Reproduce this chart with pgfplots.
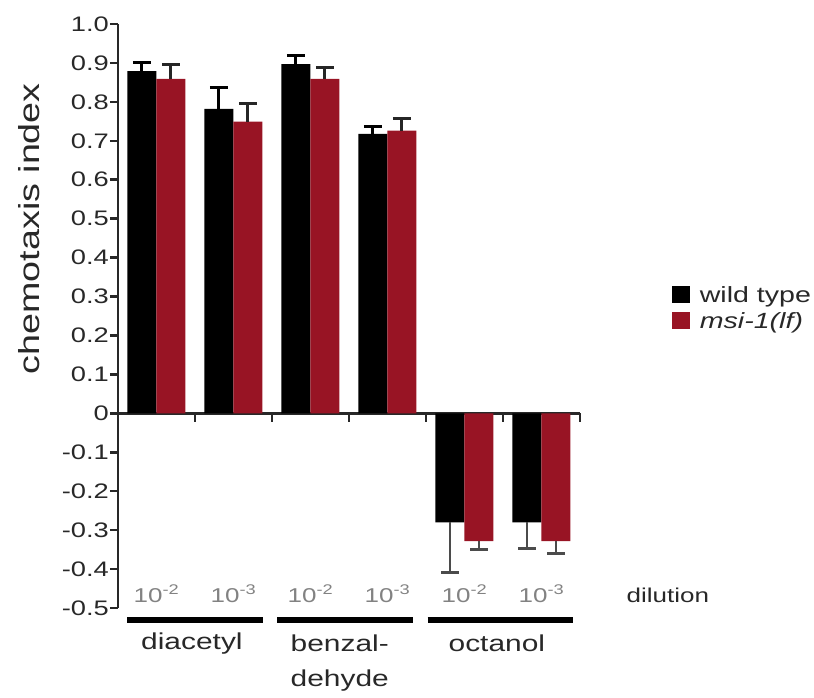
\documentclass[border=0pt]{standalone}
\usepackage{pgfplots}
\pgfplotsset{compat=1.18}
\usepackage{fontspec}
\setmainfont{Liberation Sans}[FakeStretch=1.3]
\definecolor{wred}{RGB}{152,20,36}
\definecolor{axgray}{RGB}{40,40,40}
\definecolor{errgray}{RGB}{75,75,75}
\definecolor{dilgray}{RGB}{130,130,130}
\begin{document}
\begin{tikzpicture}
\path[use as bounding box] (-118pt,-89pt) rectangle (696pt,608pt);
\begin{axis}[
  at={(0pt,0pt)}, anchor=south west,
  scale only axis, width=462pt, height=584pt,
  xmin=-0.5, xmax=5.5, ymin=-0.5, ymax=1.0,
  axis x line*=middle, axis y line*=left,
  axis line style={line width=2.5pt, axgray},
  xtick=\empty,
  ytick={-0.5,-0.4,-0.3,-0.2,-0.1,0,0.1,0.2,0.3,0.4,0.5,0.6,0.7,0.8,0.9,1.0},
  yticklabels={-0.5,-0.4,-0.3,-0.2,-0.1,0,0.1,0.2,0.3,0.4,0.5,0.6,0.7,0.8,0.9,1.0},
  /pgf/number format/assume math mode=true,
  yticklabel style={font=\fontsize{21}{21}\selectfont, text=axgray, inner sep=1pt},
  tick align=outside, major tick length=8pt,
  y tick style={line width=2.5pt, axgray},
  ybar, bar width=29pt,
  clip=false,
  legend cell align=left,
  legend image code/.code={\fill[#1] (0pt,-8pt) rectangle (18pt,9pt);},
  legend style={at={(axis cs:6.69,0.27)}, anchor=west, draw=none, fill=none,
    font=\fontsize{22}{22}\selectfont, row sep=4pt, inner sep=0pt,
    nodes={inner sep=2pt, text=axgray},
    /tikz/every odd column/.append style={column sep=8pt}},
]
% positive groups: diacetyl 1e-2, 1e-3, benzaldehyde 1e-2, 1e-3
\addplot[fill=black, draw=none, bar shift=-14.5pt,
  error bars/.cd, y dir=plus, y explicit,
  error bar style={line width=3pt, black},
  error mark options={rotate=90, mark size=9pt, line width=3pt, black}]
  coordinates {(0,0.879) +- (0,0.021) (1,0.782) +- (0,0.054) (2,0.897) +- (0,0.021) (3,0.718) +- (0,0.020)};
\addplot[fill=wred, draw=none, bar shift=14.5pt,
  error bars/.cd, y dir=plus, y explicit,
  error bar style={line width=3pt, black!85},
  error mark options={rotate=90, mark size=9pt, line width=3pt, black!85}]
  coordinates {(0,0.859) +- (0,0.036) (1,0.749) +- (0,0.048) (2,0.859) +- (0,0.028) (3,0.726) +- (0,0.030)};
\legend{wild type, \textit{msi-1(lf)}}
% negative groups: octanol 1e-2, 1e-3
\addplot[fill=black, draw=none, bar shift=-14.5pt, forget plot,
  error bars/.cd, y dir=minus, y explicit,
  error bar style={line width=2.5pt, errgray},
  error mark options={rotate=90, mark size=9pt, line width=3pt, errgray}]
  coordinates {(4,-0.280) +- (0,0.128) (5,-0.280) +- (0,0.066)};
\addplot[fill=wred, draw=none, bar shift=14.5pt, forget plot,
  error bars/.cd, y dir=minus, y explicit,
  error bar style={line width=2.5pt, errgray},
  error mark options={rotate=90, mark size=9pt, line width=3pt, errgray}]
  coordinates {(4,-0.328) +- (0,0.022) (5,-0.328) +- (0,0.031)};
% x tick marks at group boundaries
\pgfplotsinvokeforeach{0.5,1.5,2.5,3.5,4.5,5.5}{
  \draw[line width=2.5pt, axgray] (axis cs:#1,0) -- ([yshift=-9pt]axis cs:#1,0);
}
% dilution labels
\pgfplotsinvokeforeach{0,2,4}{
  \node[text=dilgray, font=\fontsize{20}{20}\selectfont] at (axis cs:#1,-0.463) {10\textsuperscript{-2}};
}
\pgfplotsinvokeforeach{1,3,5}{
  \node[text=dilgray, font=\fontsize{20}{20}\selectfont] at (axis cs:#1,-0.463) {10\textsuperscript{-3}};
}
\node[anchor=west, text=axgray, font=\fontsize{20}{20}\selectfont] at (axis cs:6.06,-0.468) {dilution};
% compound bars
\draw[line width=6pt, black] (axis cs:-0.38,-0.53) -- (axis cs:1.38,-0.53);
\draw[line width=6pt, black] (axis cs:1.57,-0.53) -- (axis cs:3.33,-0.53);
\draw[line width=6pt, black] (axis cs:3.52,-0.53) -- (axis cs:5.41,-0.53);
\node[text=axgray, font=\fontsize{23}{23}\selectfont] at (axis cs:0.46,-0.591) {diacetyl};
\node[text=axgray, font=\fontsize{23}{23}\selectfont] at (axis cs:2.38,-0.591) {benzal-};
\node[text=axgray, font=\fontsize{23}{23}\selectfont] at (axis cs:2.38,-0.686) {dehyde};
\node[text=axgray, font=\fontsize{23}{23}\selectfont] at (axis cs:4.42,-0.591) {octanol};
% y label
\node[rotate=90, text=axgray, font=\fontsize{29}{29}\selectfont] at (axis cs:-1.66,0.474) {chemotaxis index};
\end{axis}
\end{tikzpicture}
\end{document}
